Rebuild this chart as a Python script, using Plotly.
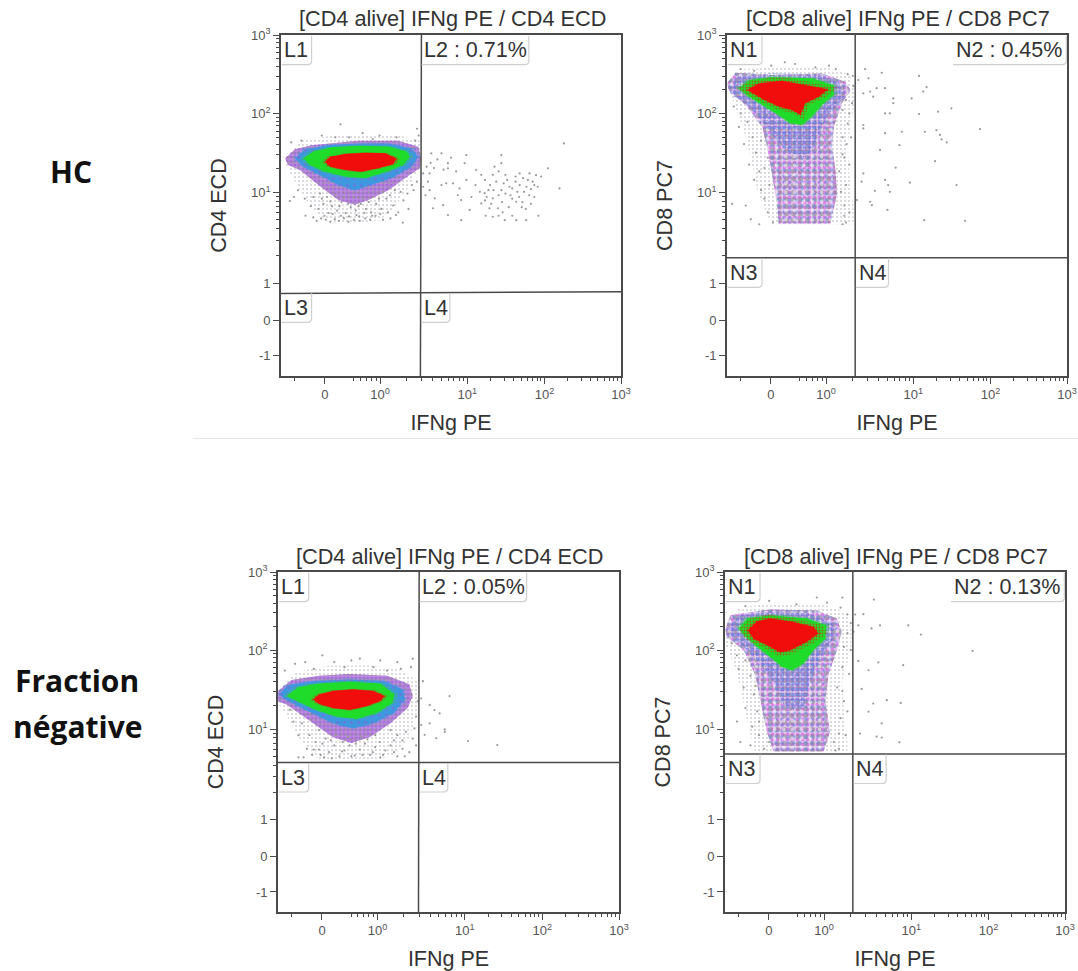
import math
import plotly.graph_objects as go

W, H = 1078, 971
# Axis units: display channel 0-1000 on both axes
x_tick_vals = [129, 291.6, 548, 775, 1000]
x_tick_text = ["0", "10<sup>0</sup>", "10<sup>1</sup>", "10<sup>2</sup>", "10<sup>3</sup>"]
y_tick_vals = [1000, 770, 537.6, 272, 162, 59]
y_tick_text = ["10<sup>3</sup>", "10<sup>2</sup>", "10<sup>1</sup>", "1", "0", "-1"]

titles = ["[CD4 alive] IFNg PE / CD4 ECD", "[CD8 alive] IFNg PE / CD8 PC7",
          "[CD4 alive] IFNg PE / CD4 ECD", "[CD8 alive] IFNg PE / CD8 PC7"]
y_labels = ["CD4 ECD", "CD8 PC7", "CD4 ECD", "CD8 PC7"]
gate_labels = [("L1", "L2 : 0.71%", "L3", "L4"), ("N1", "N2 : 0.45%", "N3", "N4"),
               ("L1", "L2 : 0.05%", "L3", "L4"), ("N1", "N2 : 0.13%", "N3", "N4")]
panel_px = [(281, 621, 35, 376), (727, 1067, 35, 376), (278, 619, 572, 912), (725, 1065, 572, 912)]
gate_v = [(413, 410), (377, 377), (414, 412), (376, 376)]
gate_h = [(242, 247), (347, 347), (440, 440), (465, 465)]

# Density bands
p1_red_x = [129,144,188,247,306,340,330,286,237,188,144]
p1_red_y = [628,643,651,655,653,638,621,609,599,604,614]
p1_green_x = [66,95,149,227,316,370,379,360,311,247,188,129,85]
p1_green_y = [638,658,671,675,673,658,643,619,599,580,585,599,619]
p1_blue_x = [41,70,139,227,316,384,404,384,325,266,217,169,120,66]
p1_blue_y = [638,665,677,682,682,667,643,614,580,560,545,560,585,614]
p1_purple_x = [12,41,90,227,345,404,412,408,364,316,257,217,169,110,56,21]
p1_purple_y = [638,665,677,690,690,672,638,609,580,545,516,502,516,560,604,619]

p2_red_x = [59,93,162,221,297,270,230,216,191,152,108]
p2_red_y = [839,858,866,856,841,819,800,766,780,790,811]
p2_green_x = [34,64,132,250,314,314,279,250,221,186,152,103,64]
p2_green_y = [843,867,877,873,853,824,795,761,736,741,765,795,819]
p2_blue_x = [6,30,132,270,330,345,300,270,250,225,175,130,95,55,12]
p2_blue_y = [840,878,888,885,860,815,770,710,660,640,660,710,760,800,825]
p2_purple_x = [0,25,132,279,348,363,338,314,309,319,324,304,152,147,132,118,103,59,5]
p2_purple_y = [858,889,883,887,863,839,800,731,672,604,535,447,447,506,594,672,731,790,839]

p3_red_x = [103,120,160,220,280,313,300,260,210,160,120]
p3_red_y = [625,640,650,655,650,635,620,605,594,600,612]
p3_green_x = [25,60,120,210,300,342,335,290,230,170,110,60]
p3_green_y = [635,662,672,677,672,640,615,585,568,575,595,618]
p3_blue_x = [3,30,110,210,310,365,372,340,280,220,160,90,30]
p3_blue_y = [640,668,680,684,680,655,625,585,555,540,555,590,620]
p3_purple_x = [0,40,120,210,320,385,395,380,330,270,215,160,90,25,0]
p3_purple_y = [650,682,695,700,695,670,635,600,555,515,497,515,565,610,620]

p4_red_x = [67,94,133,192,260,275,241,192,162,123,84]
p4_red_y = [829,855,863,855,839,819,795,770,763,785,804]
p4_green_x = [40,65,133,241,299,295,260,231,197,167,133,94,60]
p4_green_y = [834,863,873,863,843,804,770,731,711,721,750,780,809]
p4_blue_x = [11,40,133,250,319,319,280,250,231,177,143,104,60,16]
p4_blue_y = [839,873,883,878,848,804,746,677,599,599,677,731,775,814]
p4_purple_x = [0,16,133,270,329,343,329,304,295,309,290,143,123,104,89,55,6]
p4_purple_y = [829,873,890,887,863,824,770,697,618,530,472,472,530,618,697,770,809]

# Sparse grey fringe below/around each population
p1_fringe_x = [5,60,150,260,350,410,412,370,330,290,230,160,110,70,30]
p1_fringe_y = [640,690,705,705,705,690,620,545,490,455,450,450,470,520,590]
p2_fringe_x = [0,40,150,290,360,378,370,355,360,372,372,130,90,70,50,20]
p2_fringe_y = [860,900,905,905,885,840,770,680,590,500,445,445,540,640,720,800]
p3_fringe_x = [0,50,150,270,350,410,412,385,340,280,200,120,70,30,0]
p3_fringe_y = [650,705,725,725,715,680,600,510,460,445,445,445,500,570,615]
p4_fringe_x = [0,40,150,290,360,374,370,345,350,360,360,90,70,50,30,0]
p4_fringe_y = [830,895,910,905,880,830,770,680,590,500,468,468,540,640,720,790]

# Individually read events
p1_gray = [(832,682),(785,609),(819,550),(757,470),(731,594),(750,589),(726,575),(740,570),(702,594),(672,555),
 (702,560),(692,511),(721,457),(692,457),(658,457),(648,648),(628,614),(648,624),(623,590),(633,570),(648,545),
 (623,521),(599,536),(613,492),(638,492),(589,506),(623,467),(589,590),(574,604),(545,648),(540,624),(545,575),
 (525,550),(530,516),(530,457),(555,487),(491,472),(477,501),(452,521),(447,492),(486,565),(472,560),(491,624),
 (472,653),(442,653),(428,614),(418,594),(437,594),(491,609),(506,565),(437,545),(418,555),(660,535),(680,520),
 (715,540),(730,530),(745,560),(665,575),(690,585),(710,510),(650,510),(640,470),(610,545),(605,525),(670,495),
 (695,540),(735,505),(755,555),(765,585),(600,575),(615,560),(625,545),(640,530),(655,565),(680,550),(690,570),
 (712,580),(722,555),(735,548),(700,525),(675,530),(660,590),(640,600),(618,505),(602,470),(652,480),(680,470),
 (708,495),(720,490),(745,525),(600,515),(585,540),(572,560),(560,525),(450,610),(460,635),(500,640),(478,605),
 (432,570),(425,530),(440,625),(515,600),(520,530),
 (26,513),(38,525),(50,545),(70,520),(88,498),(72,470),(95,465),(105,455),(118,462),(132,458),(145,452),(158,460),
 (170,455),(185,462),(198,452),(215,458),(230,468),(232,455),(248,462),(262,458),(278,470),(300,458),(322,462),
 (358,450),(110,490),(125,505),(140,478),(150,498),(165,485),(178,510),(190,478),(205,495),(220,485),(235,505),
 (250,490),(265,480),(280,505),(295,490),(310,520),(330,500),(345,480),(360,515),(372,535),(390,545),(95,525),
 (115,535),(135,525),(160,530),(185,525),(215,525),(240,520),(270,525),(300,540),(335,545),(175,738),(120,705),
 (200,700),(240,712),(290,705),(340,700),(400,725),(405,705),(160,700),(270,695),(60,690),(30,685),(395,690),(385,560),
 (128,470),(152,475),(176,470),(200,468),(222,472),(245,478),(268,470),(292,475),(315,480),(338,472),(375,490),
 (120,520),(145,512),(172,498),(198,505),(228,498),(258,510),(288,520),(320,530),(352,540),(400,570)]
p2_gray = [(406,900),(455,889),(565,880),(587,847),(577,834),(465,844),(440,844),(421,834),(401,829),(386,868),
 (416,873),(430,819),(489,814),(489,800),(543,814),(660,785),(621,775),(565,768),(479,770),(465,770),(744,724),
 (616,721),(582,716),(514,716),(465,712),(401,736),(401,726),(626,707),(631,694),(646,685),(507,677),(450,663),
 (612,630),(496,611),(465,575),(474,560),(538,567),(675,560),(435,543),(479,540),(421,511),(426,501),(472,487),
 (580,457),(700,455),(382,516),(396,570),(401,594),
 (20,790),(40,770),(60,745),(35,730),(75,700),(50,680),(85,655),(65,620),(95,600),(80,575),(100,545),(55,500),
 (110,520),(120,480),(70,460),(95,445),(15,505),(135,450),(330,600),(345,640),(340,700),(355,740),(335,540),
 (350,560),(360,620),(345,500),(360,480),(350,450),(365,700),(360,770),(130,910),(80,895),(200,915),(260,905),
 (320,900),(355,885),(40,900),(170,920),(300,910),(370,880),(340,650),(352,680),(345,470),(340,445),(125,560),
 (110,610),(120,640),(100,690),(340,780),(350,810),(368,800),(372,850)]
p3_gray = [(425,679),(503,635),(445,609),(459,594),(474,584),(420,628),(445,555),(489,530),(464,511),(557,503),
 (643,491),(420,550),(430,521),(489,537),
 (20,710),(50,730),(130,755),(165,735),(195,720),(240,745),(280,720),(350,735),(395,745),(320,710),(390,720),
 (75,455),(85,480),(100,462),(120,478),(135,455),(150,470),(165,490),(180,458),(195,475),(210,490),(225,460),
 (240,478),(255,495),(270,462),(285,485),(300,455),(315,475),(330,490),(350,458),(365,480),(385,470),(395,510),
 (405,490),(400,540),(375,530),(350,520),(330,535),(110,500),(140,510),(170,520),(205,515),(245,515),(285,520),
 (410,620),(405,575),(60,520),(45,560),(70,555),(35,595),(60,455),(120,535),(105,478),(125,462),(158,452),(188,472),
 (215,458),(248,462),(278,470),(308,462),(340,470),(372,458),(92,520),(130,495),(155,505),(190,500),(228,495),
 (262,508),(298,500),(340,505),(365,505),(80,735),(105,715),(215,740),(300,740),(360,715)]
p4_gray = [(438,919),(383,875),(407,876),(456,843),(431,834),(539,843),(576,816),(728,768),(524,726),(451,734),
 (392,738),(422,711),(402,656),(476,623),(517,615),(436,613),(422,589),(461,555),(397,525),(446,516),(461,513),
 (513,499),(378,824),(392,843),
 (20,790),(35,755),(60,740),(40,715),(75,695),(55,660),(85,640),(60,600),(95,590),(35,560),(80,545),(100,520),
 (45,500),(75,490),(115,480),(130,500),(330,660),(345,720),(350,620),(340,570),(360,590),(320,500),(335,480),
 (355,520),(370,770),(365,700),(345,925),(300,910),(210,905),(130,915),(60,900),(360,875),(340,895),(270,925),
 (100,560),(110,625),(125,570),(90,665),(345,650),(335,525),(325,475),(350,780),(360,820),(370,850)]
p_gray = [p1_gray, p2_gray, p3_gray, p4_gray]

bands = [
    (p1_red_x,p1_red_y,p1_green_x,p1_green_y,p1_blue_x,p1_blue_y,p1_purple_x,p1_purple_y,p1_fringe_x,p1_fringe_y),
    (p2_red_x,p2_red_y,p2_green_x,p2_green_y,p2_blue_x,p2_blue_y,p2_purple_x,p2_purple_y,p2_fringe_x,p2_fringe_y),
    (p3_red_x,p3_red_y,p3_green_x,p3_green_y,p3_blue_x,p3_blue_y,p3_purple_x,p3_purple_y,p3_fringe_x,p3_fringe_y),
    (p4_red_x,p4_red_y,p4_green_x,p4_green_y,p4_blue_x,p4_blue_y,p4_purple_x,p4_purple_y,p4_fringe_x,p4_fringe_y),
]

RED, GREEN, BLUE, PURPLE, MAGENTA, GREY = "#f20d0d", "#1fdc2a", "#3f97e0", "#9a4fd0", "#d63fe6", "#8f8f8f"
LINE = "#4a4a4a"
FONT = "Liberation Sans"

fig = go.Figure()

def axn(i):
    return "" if i == 0 else str(i + 1)

def solid(i, xs, ys, color):
    fig.add_trace(go.Scatter(x=xs + xs[:1], y=ys + ys[:1], mode="lines", fill="toself", fillcolor=color,
                             line=dict(width=0, color=color), hoverinfo="skip", showlegend=False,
                             xaxis="x" + axn(i), yaxis="y" + axn(i)))

def speck(i, xs, ys, color, size, solidity):
    fig.add_trace(go.Scatter(x=xs + xs[:1], y=ys + ys[:1], mode="lines", fill="toself",
                             fillcolor="rgba(0,0,0,0)", line=dict(width=0, color="rgba(0,0,0,0)"),
                             fillpattern=dict(shape=".", fgcolor=color, size=size, solidity=solidity,
                                              bgcolor="rgba(0,0,0,0)"),
                             hoverinfo="skip", showlegend=False, xaxis="x" + axn(i), yaxis="y" + axn(i)))

def grown(xs, ys, k):
    cx, cy = sum(xs) / len(xs), sum(ys) / len(ys)
    return [cx + (v - cx) * k for v in xs], [cy + (v - cy) * k for v in ys]

x_minor = [39] + [291.6 + 257 * math.log10(v) for v in (.5, .6, .7, .8, .9)] + \
    [291.6 + 257 * math.log10(v) for v in range(2, 10)] + \
    [548 + 227 * math.log10(v) for v in range(2, 10)] + [775 + 225 * math.log10(v) for v in range(2, 10)]
y_minor = [272 + 265.6 * math.log10(v) for v in range(2, 10)] + \
    [537.6 + 232.4 * math.log10(v) for v in range(2, 10)] + [770 + 230 * math.log10(v) for v in range(2, 10)]

shapes, annos = [], []
layout = {}
for i, (l, r, t, b) in enumerate(panel_px):
    rx, ry, gx, gy, bx, by, px, py, fx, fy = bands[i]
    speck(i, fx, fy, "#a9a3b0", 4, 0.22)
    if i in (1, 3):
        solid(i, px, py, "#dccbe9")
        speck(i, px, py, MAGENTA, 5, 0.45)
        speck(i, px, py, "#808088", 7, 0.42)
        speck(i, px, py, "#5f86d8", 6, 0.28)
        speck(i, px, py, "#ffffff", 9, 0.14)
        speck(i, bx, by, BLUE, 5, 0.50)
        speck(i, bx, by, PURPLE, 3, 0.40)
    else:
        solid(i, px, py, "#bb8ce2")
        speck(i, px, py, PURPLE, 4, 0.5)
        speck(i, px, py, GREY, 5, 0.3)
        speck(i, *grown(bx, by, 1.05), BLUE, 4, 0.5)
        solid(i, bx, by, BLUE)
        speck(i, bx, by, PURPLE, 7, 0.1)
    speck(i, *grown(gx, gy, 1.06), GREEN, 3, 0.5)
    solid(i, gx, gy, GREEN)
    if i in (1, 3):
        speck(i, *grown(rx, ry, 1.25), RED, 3, 0.32)
    speck(i, *grown(rx, ry, 1.08), RED, 3, 0.5)
    solid(i, rx, ry, RED)
    fig.add_trace(go.Scatter(x=[q[0] for q in p_gray[i]], y=[q[1] for q in p_gray[i]], mode="markers",
                             marker=dict(size=2.2, color="#9a9a9a"), hoverinfo="skip", showlegend=False,
                             xaxis="x" + axn(i), yaxis="y" + axn(i)))
    common = dict(range=[0, 1000], tickmode="array", showgrid=False, zeroline=False, showline=True, mirror=True,
                  linecolor=LINE, linewidth=1.6, ticks="outside", tickcolor=LINE, tickwidth=1.4, ticklen=6,
                  tickfont=dict(family=FONT, size=13, color="#555555"),
                  title_font=dict(family=FONT, size=21.5, color="#333333"),
                  minor=dict(ticks="outside", ticklen=3, tickwidth=1.1, tickcolor=LINE, showgrid=False))
    layout["xaxis" + axn(i)] = dict(common, domain=[l / W, r / W], anchor="y" + axn(i), tickvals=x_tick_vals,
                                    ticktext=x_tick_text, minor=dict(common["minor"], tickvals=x_minor),
                                    title=dict(text="IFNg PE", standoff=14))
    layout["yaxis" + axn(i)] = dict(common, domain=[1 - b / H, 1 - t / H], anchor="x" + axn(i), tickvals=y_tick_vals,
                                    ticktext=y_tick_text, minor=dict(common["minor"], tickvals=y_minor),
                                    title=dict(text=y_labels[i], standoff=19))
    xr, yr = "x" + axn(i), "y" + axn(i)
    vt, vb = gate_v[i]
    hl, hr = gate_h[i]
    shapes.append(dict(type="line", xref=xr, yref=yr, x0=vb, x1=vt, y0=0, y1=1000, line=dict(color=LINE, width=1.5)))
    shapes.append(dict(type="line", xref=xr, yref=yr, x0=0, x1=1000, y0=hl, y1=hr, line=dict(color=LINE, width=1.5)))
    bw = 90 if i in (0, 2) else 103
    bh = 85
    vm = (vt + vb) / 2
    hm = (hl + hr) / 2
    wide = (vm + 2, 729) if i in (0, 2) else (665, 998)
    boxes = [(2, bw, 998, 998 - bh, gate_labels[i][0]), (wide[0], wide[1], 998, 998 - bh, gate_labels[i][1]),
             (2, bw, hm - 2, hm - 2 - bh, gate_labels[i][2]), (vm + 2, vm + bw - 5, hm - 2, hm - 2 - bh, gate_labels[i][3])]
    for x0, x1, y0, y1, txt in boxes:
        shapes.append(dict(type="path", xref=xr, yref=yr, layer="above", line=dict(color="#cfcfcf", width=1.2),
                           path=f"M {x1},{y0} L {x1},{y1+12} Q {x1},{y1} {x1-12},{y1} L {x0},{y1}"))
        annos.append(dict(xref=xr, yref=yr, x=x0 + 2, y=(y0 + y1) / 2, text=txt, showarrow=False, xanchor="left",
                          yanchor="middle", font=dict(family=FONT, size=21.5, color="#333333")))
    annos.append(dict(xref="paper", yref="paper", x=((l + r) / 2 + 1) / W, y=1 - (t - 16) / H, text=titles[i],
                      showarrow=False, xanchor="center", yanchor="middle",
                      font=dict(family=FONT, size=21.7, color="#333333")))

for txt, cx, cy in (("HC", 71, 172), ("Fraction", 77, 680), ("négative", 77, 726)):
    annos.append(dict(xref="paper", yref="paper", x=cx / W, y=1 - cy / H, text=f"<b>{txt}</b>", showarrow=False,
                      xanchor="center", yanchor="middle", font=dict(family="Open Sans", size=30, color="#111111")))

shapes.append(dict(type="line", xref="paper", yref="paper", x0=193 / W, x1=1, y0=1 - 438.5 / H, y1=1 - 438.5 / H,
                   line=dict(color="#e6e6e6", width=1)))

fig.update_layout(width=W, height=H, margin=dict(l=0, r=0, t=0, b=0, autoexpand=False), paper_bgcolor="white",
                  plot_bgcolor="white", showlegend=False, shapes=shapes, annotations=annos, **layout)
fig.write_html("out.html", config=dict(displayModeBar=False), post_script="document.body.style.margin='0';")
